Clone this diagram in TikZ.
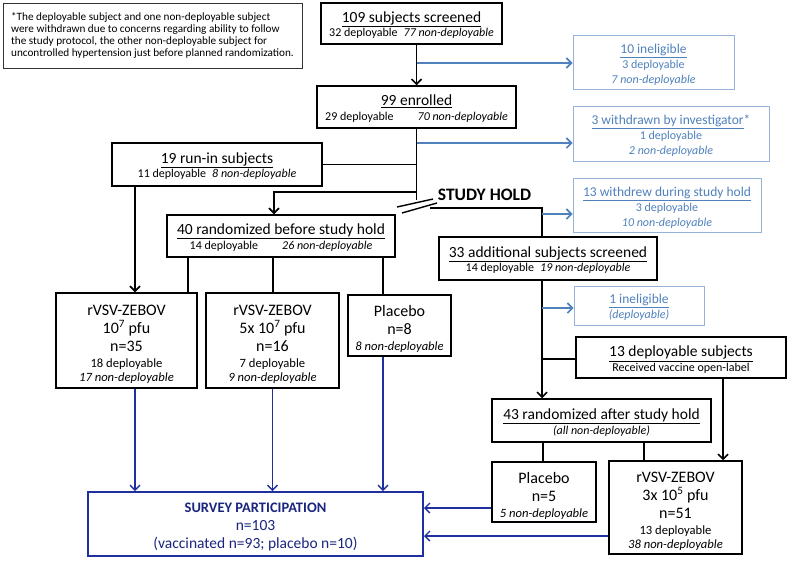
\documentclass[tikz,border=0pt]{standalone}
\usepackage{fontspec}
\setmainfont{Carlito}
\usetikzlibrary{arrows.meta}
\definecolor{lblue}{HTML}{4F81BD}
\definecolor{lbord}{HTML}{95B3D7}
\definecolor{navy}{HTML}{1F2F9F}
\definecolor{navytxt}{HTML}{1A2580}
\newcommand\fT{\fontsize{15.5}{17}\selectfont}
\newcommand\fS{\fontsize{12.6}{14.5}\selectfont}
\newcommand\fM{\fontsize{13.5}{15}\selectfont}
\newcommand\lift[1]{\rule{0pt}{#1pt}}
\tikzset{
  box/.style={draw=black, line width=1.5pt, inner sep=0pt, align=center, text=black,
    font=\fontsize{12}{14.5}\selectfont},
  armbox/.style={box, font=\fontsize{16}{18}\selectfont},
  sidebox/.style={draw=lbord, line width=1pt, inner sep=0pt, align=center, text=lblue,
    font=\fontsize{12}{15}\selectfont},
  survbox/.style={draw=navy, line width=2pt, inner sep=0pt, align=center, text=navytxt,
    font=\fontsize{15.5}{18}\selectfont},
  notebox/.style={draw=black!80, line width=1pt, inner sep=0pt, align=left,
    font=\fontsize{11.2}{11.7}\selectfont},
  conn/.style={black, line width=1.6pt},
  arr/.style={conn, -{Straight Barb[length=5pt,width=10pt]}},
  barr/.style={lblue, line width=1.6pt, -{Straight Barb[length=5pt,width=10pt]}},
  narr/.style={navy, line width=1.3pt, -{Straight Barb[length=5pt,width=10pt]}},
  holdlabel/.style={inner sep=0pt, font=\fontsize{17.5}{19}\selectfont\bfseries}
}
\begin{document}
\begin{tikzpicture}[x=1pt,y=-1pt]
\useasboundingbox[fill=white] (0,0) rectangle (789,560);
% note
\node[notebox, minimum width=299pt, minimum height=65pt] (note) at (152.5,35.5)
 {*The deployable subject and one non-deployable subject\\
  were withdrawn due to concerns regarding ability to follow\\
  the study protocol, the other non-deployable subject for\\
  uncontrolled hypertension just before planned randomization.};
% main boxes
\node[box, minimum width=181pt, minimum height=41pt] (screened) at (411.5,23.5)
 {\lift{14}\fT\underline{109 subjects screened}\\32 deployable\enspace\textit{77 non-deployable}};
\node[box, minimum width=199pt, minimum height=42pt] (enrolled) at (416.5,107)
 {\lift{14}\fT\underline{99 enrolled}\\29 deployable\qquad\textit{70 non-deployable}};
\node[box, minimum width=210pt, minimum height=43pt] (runin) at (217,164.5)
 {\lift{14}\fT\underline{19 run-in subjects}\\11 deployable\enspace\textit{8 non-deployable}};
\node[box, minimum width=228pt, minimum height=42pt] (rand40) at (281,236)
 {\lift{14}\fT\underline{40 randomized before study hold}\\14 deployable\qquad\textit{26 non-deployable}};
\node[box, minimum width=218pt, minimum height=43pt] (add33) at (548,258.5)
 {\lift{14}\fT\underline{33 additional subjects screened}\\14 deployable\enspace\textit{19 non-deployable}};
\node[box, minimum width=210pt, minimum height=41pt] (dep13) at (681,357.5)
 {\lift{15}\fT\underline{13 deployable subjects}\\Received vaccine open-label};
\node[box, minimum width=219pt, minimum height=43pt] (rand43) at (601.5,420.5)
 {\lift{15}\fT\underline{43 randomized after study hold}\\\textit{(all non-deployable)}};
% arms
\node[armbox, minimum width=141pt, minimum height=95pt] (arm1) at (126.5,340.5)
 {\lift{19}rVSV-ZEBOV\\10\textsuperscript{7} pfu\\n=35\\[-2pt]\fS 18 deployable\\[-4pt]\fS\textit{17 non-deployable}};
\node[armbox, minimum width=133pt, minimum height=95pt] (arm2) at (272.5,340.5)
 {\lift{19}rVSV-ZEBOV\\5x 10\textsuperscript{7} pfu\\n=16\\[-2pt]\fS 7 deployable\\[-4pt]\fS\textit{9 non-deployable}};
\node[armbox, minimum width=103pt, minimum height=61pt] (arm3) at (399.5,325.5)
 {\lift{18.5}Placebo\\n=8\\[-2pt]\fS\textit{8 non-deployable}};
\node[armbox, minimum width=104pt, minimum height=60pt] (plac5) at (544,492)
 {\lift{18.5}Placebo\\n=5\\[-2pt]\fS\textit{5 non-deployable}};
\node[armbox, minimum width=133pt, minimum height=93pt] (arm4) at (675.5,507.5)
 {\lift{19}rVSV-ZEBOV\\3x 10\textsuperscript{5} pfu\\n=51\\[-2pt]\fS 13 deployable\\[-4pt]\fS\textit{38 non-deployable}};
% side boxes
\node[sidebox, minimum width=161pt, minimum height=54pt] (inel10) at (653.5,62)
 {\lift{14}\fM\underline{10 ineligible}\\3 deployable\\\textit{7 non-deployable}};
\node[sidebox, minimum width=196pt, minimum height=55pt] (wd3) at (671,133.5)
 {\lift{14}\fM\underline{3 withdrawn by investigator}*\\1 deployable\\\textit{2 non-deployable}};
\node[sidebox, minimum width=188pt, minimum height=54pt] (wd13) at (667,205)
 {\lift{14}\fM\underline{13 withdrew during study hold}\\3 deployable\\\textit{10 non-deployable}};
\node[sidebox, minimum width=130pt, minimum height=39pt] (inel1) at (639,305.5)
 {\lift{12}\fM\underline{1 ineligible}\\\textit{(deployable)}};
% survey
\node[survbox, minimum width=335pt, minimum height=64pt] (survey) at (255.5,524)
 {\lift{15}\fontsize{14.5}{18}\selectfont\bfseries SURVEY PARTICIPATION\\n=103\\(vaccinated n=93; placebo n=10)};
% study hold
\node[holdlabel] (holdlbl) at (484.5,195) {STUDY HOLD};
\draw[black, line width=1.4pt] (397,207) -- (433,199);
\draw[black, line width=1.4pt] (402,213) -- (437,203);
% connectors top
\coordinate (b1) at (416.5,63);
\coordinate (b2) at (416.5,143);
\coordinate (b3) at (416.5,192);
\coordinate (hold) at (416.5,200);
\coordinate (h2) at (430,208);
\coordinate (b4) at (542,214);
\coordinate (b5) at (542,308);
\coordinate (b6) at (542,359);
\draw[arr] (screened.south -| enrolled.north) -- (enrolled.north);
\draw[barr] (b1) -- (b1 -| inel10.west);
\draw[conn] (enrolled.south) -- (hold);
\draw[barr] (b2) -- (b2 -| wd3.west);
\draw[conn] (runin.east) -- (runin.east -| hold);
\draw[arr] (b3) -| ([xshift=-7pt]rand40.north);
\draw[conn] (h2) -| ([xshift=-6pt]add33.north);
\draw[barr] (b4) -- (b4 -| wd13.west);
% arms before hold
\draw[conn] ([xshift=-93pt]rand40.south) -- ([xshift=-93pt]rand40.south |- arm1.north);
\draw[conn] ([xshift=-8pt]rand40.south) -- ([xshift=-8pt]rand40.south |- arm2.north);
\draw[conn] ([xshift=102pt]rand40.south) -- ([xshift=102pt]rand40.south |- arm3.north);
\draw[arr] ([xshift=-82pt]runin.south) -- ([xshift=-82pt]runin.south |- arm1.north);
% to survey
\draw[narr] ([xshift=8.5pt]arm1.south) -- ([xshift=8.5pt]arm1.south |- survey.north);
\draw[narr] (arm2.south) -- (arm2.south |- survey.north);
\draw[narr] ([xshift=-16.5pt]arm3.south) -- ([xshift=-16.5pt]arm3.south |- survey.north);
% right lower
\draw[arr] ([xshift=-6pt]add33.south) -- ([xshift=-6pt]add33.south |- rand43.north);
\draw[barr] (b5) -- (b5 -| inel1.west);
\draw[conn] (b6) -- (b6 -| dep13.west);
\draw[arr] ([xshift=42pt]dep13.south) -- ([xshift=42pt]dep13.south |- arm4.north);
\draw[conn] ([xshift=-58.5pt]rand43.south) -- ([xshift=-58.5pt]rand43.south |- plac5.north);
\draw[conn] ([xshift=42.5pt]rand43.south) -- ([xshift=42.5pt]rand43.south |- arm4.north);
\draw[narr] ([yshift=-16pt]plac5.west) -- ([yshift=-16pt]plac5.west -| survey.east);
\draw[narr] ([yshift=-28.5pt]arm4.west) -- ([yshift=-28.5pt]arm4.west -| survey.east);
\end{tikzpicture}
\end{document}
